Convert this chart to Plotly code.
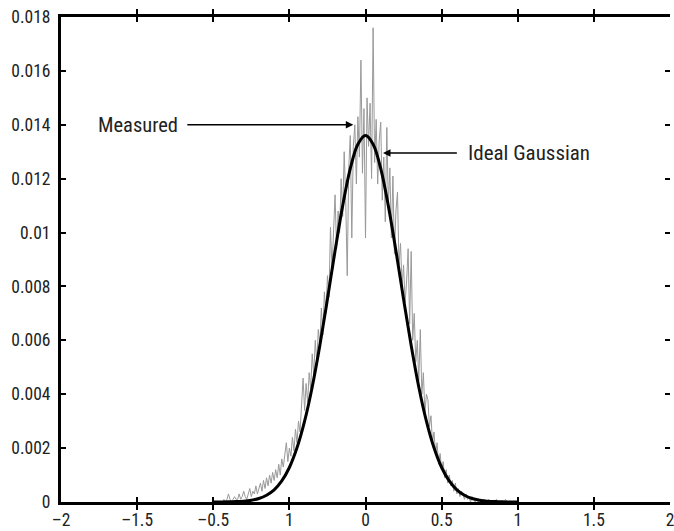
import plotly.graph_objects as go

# Measured histogram heights (units of 1e-4), one bin every 0.01 starting at -0.95
meas_start = -0.95
meas_step = 0.01
measured_e4 = [
    0, 0, 1, 0, 1, 3, 1, 0, 1, 2,
    1, 1, 3, 1, 2, 4, 2, 1, 3, 5,
    2, 4, 3, 6, 3, 5, 7, 4, 8, 5,
    9, 6, 10, 7, 11, 8, 12, 9, 14, 10,
    16, 13, 18, 22, 15, 20, 17, 24, 19, 27,
    22, 30, 26, 38, 46, 34, 44, 37, 48, 42,
    55, 47, 60, 52, 64, 58, 72, 62, 78, 70,
    84, 76, 102, 86, 98, 114, 94, 108, 100, 120,
    106, 130, 112, 84, 124, 136, 98, 132, 140, 118,
    143, 128, 164, 122, 146, 98, 150, 132, 148, 120,
    176, 126, 142, 118, 134, 141, 112, 128, 104, 139,
    110, 124, 98, 121, 92, 108, 115, 88, 96, 80,
    88, 74, 82, 94, 66, 93, 60, 70, 52, 60,
    45, 64, 40, 48, 33, 40, 38, 28, 32, 22,
    26, 18, 22, 14, 18, 12, 15, 9, 12, 7,
    10, 6, 8, 4, 7, 3, 5, 2, 4, 3,
    1, 3, 1, 2, 0, 2, 1, 0, 1, 0,
    1, 0, 0, 1, 0, 0, 1, 0, 0, 0,
    0, 1, 0, 0, 0, 0, 0, 1, 0, 0,
    0, 0, 0, 0, 0, 0,
]

# Ideal Gaussian (units of 1e-4), sampled every 0.05 from -1 to 1
ideal_start = -1.0
ideal_step = 0.05
ideal_e4 = [
    0.01, 0.03, 0.06, 0.15, 0.32, 0.67, 1.3, 2.5, 4.5, 7.8,
    12.8, 20.1, 30.0, 42.7, 58.1, 75.3, 93.2, 109.9, 123.7, 132.8,
    136.0,
    132.8, 123.7, 109.9, 93.2, 75.3, 58.1, 42.7, 30.0, 20.1,
    12.8, 7.8, 4.5, 2.5, 1.3, 0.67, 0.32, 0.15, 0.06, 0.03, 0.01,
]

x_tickvals = [-2, -1.5, -1, -0.5, 0, 0.5, 1, 1.5, 2]
x_ticktext = ["\u20132", "\u20131.5", "\u20130.5", "1", "0", "0.5", "1", "1.5", "2"]
y_tickvals = [0, 0.002, 0.004, 0.006, 0.008, 0.01, 0.012, 0.014, 0.016, 0.018]
y_ticktext = ["0", "0.002", "0.004", "0.006", "0.008", "0.01", "0.012", "0.014", "0.016", "0.018"]

SCALE = 1e-4
meas_x = [round(meas_start + i * meas_step, 3) for i in range(len(measured_e4))]
meas_y = [v * SCALE for v in measured_e4]
ideal_x = [round(ideal_start + i * ideal_step, 3) for i in range(len(ideal_e4))]
ideal_y = [v * SCALE for v in ideal_e4]

FONT = "Liberation Sans Narrow, Arial Narrow, Roboto Condensed, Liberation Sans, sans-serif"
TEXT_COLOR = "#222222"

fig = go.Figure()
fig.add_trace(go.Scatter(
    x=meas_x, y=meas_y, mode="lines",
    line=dict(color="#999999", width=1),
    name="Measured", showlegend=False,
))
fig.add_trace(go.Scatter(
    x=ideal_x, y=ideal_y, mode="lines",
    line=dict(color="black", width=3, shape="spline"),
    name="Ideal Gaussian", showlegend=False,
))

tick_style = dict(ticks="inside", ticklen=5, tickwidth=1.5, tickcolor="black",
                  tickfont=dict(family=FONT, size=17.5, color=TEXT_COLOR))

fig.update_xaxes(
    range=[-2, 2], tickvals=x_tickvals, ticktext=x_ticktext,
    showgrid=False, zeroline=False,
    showline=True, linecolor="black", linewidth=3, mirror="allticks",
    ticklabeloverflow="allow", **tick_style,
)
fig.update_layout(
    yaxis=dict(
        range=[0, 0.018], tickvals=y_tickvals, ticktext=y_ticktext,
        showgrid=False, zeroline=False,
        showline=True, linecolor="black", linewidth=3, mirror=False,
        ticklabelstandoff=4,
        **tick_style,
    ),
    # right-hand tick marks only, no frame line on that side
    yaxis2=dict(
        overlaying="y", matches="y", side="right",
        tickvals=y_tickvals, showticklabels=False,
        showgrid=False, zeroline=False, showline=False,
        ticks="inside", ticklen=5, tickwidth=1.5, tickcolor="black",
    ),
)
fig.add_trace(go.Scatter(x=[None], y=[None], yaxis="y2", showlegend=False,
                         hoverinfo="skip"))

# Callout arrows and their labels
fig.add_annotation(x=-0.08, y=0.0140, ax=-1.18, ay=0.0140, axref="x", ayref="y",
                   text="", showarrow=True, arrowhead=2, arrowsize=1, arrowwidth=1.5,
                   arrowcolor="black")
fig.add_annotation(x=-1.22, y=0.0140, text="Measured", showarrow=False,
                   xanchor="right", font=dict(family=FONT, size=20.5, color=TEXT_COLOR))
fig.add_annotation(x=0.115, y=0.01295, ax=0.61, ay=0.01295, axref="x", ayref="y",
                   text="", showarrow=True, arrowhead=2, arrowsize=1, arrowwidth=1.5,
                   arrowcolor="black")
fig.add_annotation(x=0.66, y=0.01295, text="Ideal Gaussian", showarrow=False,
                   xanchor="left", font=dict(family=FONT, size=21, color=TEXT_COLOR))

fig.update_layout(
    width=674, height=531,
    margin=dict(l=61, r=0, t=17, b=29),
    paper_bgcolor="white", plot_bgcolor="white",
)

fig.write_html("out.html")
